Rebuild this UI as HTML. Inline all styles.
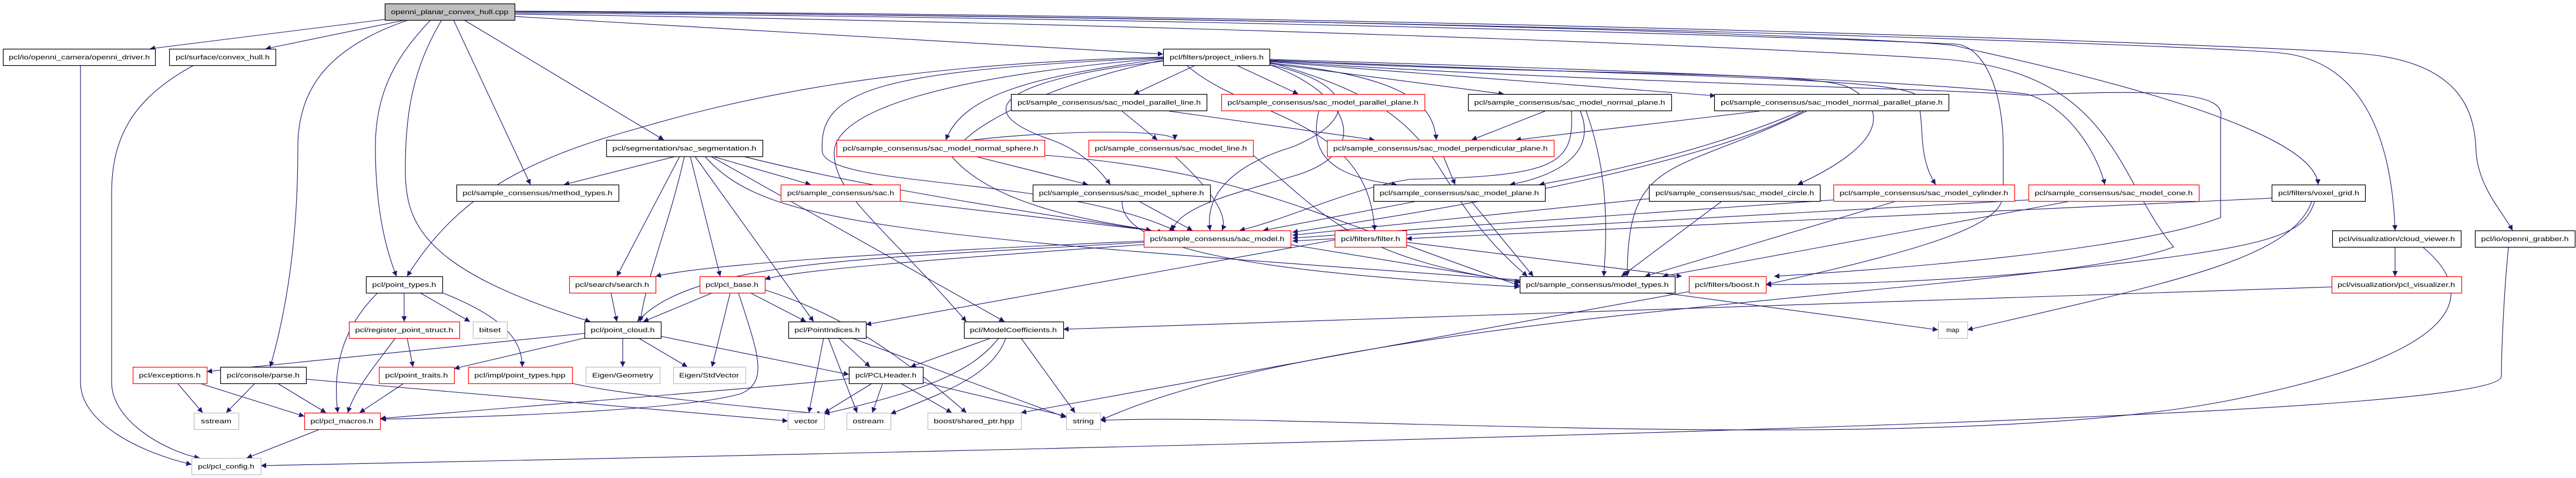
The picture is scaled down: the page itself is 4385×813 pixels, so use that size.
<!DOCTYPE html>
<html><head><meta charset="utf-8"><style>
html,body{margin:0;padding:0;background:#fff;width:4385px;height:813px;overflow:hidden}
svg{display:block}
text{font-family:"Liberation Sans",sans-serif;font-size:11px;fill:#000}
.e{fill:none;stroke:#191970;stroke-width:1.1}
</style></head><body>
<svg width="4385" height="813" viewBox="0 0 4385 813" xmlns="http://www.w3.org/2000/svg">
<defs><marker id="a" viewBox="0 0 10 10" refX="10" refY="5" markerWidth="9" markerHeight="9" orient="auto" markerUnits="userSpaceOnUse"><path d="M0,0 L10,5 L0,10 z" fill="#191970"/></marker></defs>
<g class="e" marker-end="url(#a)">
<!-- from cpp -->
<path d="M655,33 L255,83"/>
<path d="M690,34 L452,83"/>
<path d="M695,34 C560,80 507,150 507,250 C507,400 490,520 460,624"/>
<path d="M733,34 C680,90 639,150 639,250 C639,350 655,420 675,470"/>
<path d="M752,34 C700,120 690,200 690,290 C690,380 720,460 1005,547"/>
<path d="M772,34 L903,314"/>
<path d="M790,34 L1130,238"/>
<path d="M876,28 L1980,92"/>
<path d="M876,22 C2000,30 3000,60 3330,75 C3380,80 3410,160 3410,250 L3410,330 C3410,380 3300,420 3006,484"/>
<path d="M876,20 C2500,30 3300,70 3330,78 C3370,90 3940,200 3946,314"/>
<path d="M876,20 C2500,30 3800,80 3880,90 C4000,100 4070,200 4077,392"/>
<path d="M876,19 C2500,25 3900,80 4000,90 C4200,100 4213,200 4215,260 C4220,320 4260,360 4277,392"/>
<path d="M876,24 C2000,40 3000,80 3300,100 C3600,120 3600,300 3700,420 C3500,500 2300,520 1873,715"/>
<!-- left stuff -->
<path d="M137,111 L137,650 C137,720 240,770 326,790"/>
<path d="M330,111 C220,170 190,240 190,330 L190,650 C190,720 290,770 340,779"/>
<path d="M643,498 C580,560 566,630 575,702"/>
<path d="M688,498 L688,547"/>
<path d="M715,498 L800,547"/>
<path d="M753,498 C860,540 889,580 889,624"/>
<path d="M673,575 C640,620 605,660 592,702"/>
<path d="M693,575 L703,624"/>
<path d="M995,567 L352,632"/>
<path d="M995,575 L773,627"/>
<path d="M1060,575 L1060,624"/>
<path d="M1087,575 L1170,624"/>
<path d="M1125,572 L1445,637"/>
<path d="M303,653 L345,702"/>
<path d="M343,653 L518,708"/>
<path d="M433,653 L385,702"/>
<path d="M474,653 L555,702"/>
<path d="M521,645 L1341,716"/>
<path d="M686,653 L612,702"/>
<path d="M974,652 C1050,670 1250,690 1400,704"/>
<path d="M545,730 L420,779"/>
<path d="M1040,498 L1050,547"/>
<path d="M1213,498 L1095,547"/>
<path d="M1243,498 L1212,624"/>
<path d="M1277,498 L1372,547"/>
<path d="M1302,493 C1450,540 1550,620 1645,702"/>
<path d="M1257,498 C1290,600 1310,650 1260,670 C1150,700 800,710 648,713"/>
<!-- PointIndices / ModelCoefficients / PCLHeader -->
<path d="M1402,575 L1377,702"/>
<path d="M1410,575 L1459,702"/>
<path d="M1428,575 L1481,624"/>
<path d="M1450,575 L1815,710"/>
<path d="M1687,575 L1550,624"/>
<path d="M1700,575 C1650,640 1550,670 1403,704"/>
<path d="M1712,575 C1690,640 1600,670 1516,704"/>
<path d="M1738,575 L1830,702"/>
<path d="M1445,644 C1300,660 900,690 647,712"/>
<path d="M1483,653 L1403,702"/>
<path d="M1502,653 L1485,702"/>
<path d="M1535,653 L1620,702"/>
<path d="M1571,650 L1815,708"/>
<path d="M2875,496 L1738,702"/>
<!-- segmentation -->
<path d="M1150,266 L960,314"/>
<path d="M1213,266 L1380,314"/>
<path d="M1265,266 C1400,300 1600,340 1980,395"/>
<path d="M1157,266 L1050,470"/>
<path d="M1175,266 L1226,470"/>
<path d="M1183,266 L1385,547"/>
<path d="M1210,266 L1710,547"/>
<path d="M1200,266 C1300,380 1500,400 2600,477"/>
<path d="M1165,266 C1140,380 1100,470 1090,547"/>
<path d="M1532,342 L1960,392"/>
<!-- sac_model -->
<path d="M1947,410 C1500,430 1200,450 1116,470"/>
<path d="M1947,416 C1600,440 1350,460 1302,475"/>
<path d="M1947,412 C1500,440 1180,440 1085,547"/>
<path d="M2197,416 L2587,480"/>
<!-- sphere family -->
<path d="M1660,266 L1852,314"/>
<path d="M1620,266 C1700,360 1900,380 1960,392"/>
<path d="M1778,264 C2100,290 2200,350 2587,486"/>
<path d="M1940,343 L2030,392"/>
<path d="M1910,343 C1910,420 2100,460 2587,488"/>
<path d="M2000,266 C2070,330 2090,370 2080,392"/>
<path d="M2133,264 C2250,360 2300,440 2590,480"/>
<path d="M1910,189 L1970,238"/>
<path d="M1990,189 L2340,238"/>
<path d="M2245,189 C2230,250 2250,300 2378,314"/>
<path d="M2630,189 L2505,238"/>
<path d="M2675,189 C2680,280 2650,300 2400,305 C2300,320 2200,370 2110,392"/>
<path d="M2690,189 C2720,260 2650,300 2570,314"/>
<path d="M2700,189 C2740,300 2735,400 2730,470"/>
<path d="M2995,189 L2580,238"/>
<path d="M3065,189 C2900,260 2700,300 2620,314"/>
<path d="M3070,189 C2900,280 2500,350 2200,395"/>
<path d="M3075,189 C2850,300 2770,260 2770,470"/>
<path d="M2457,266 L2477,314"/>
<path d="M2408,343 L2150,392"/>
<path d="M2505,343 L2610,470"/>
<path d="M2807,338 L2200,400"/>
<path d="M2930,343 L2760,470"/>
<path d="M3121,340 L2200,405"/>
<path d="M3225,343 L2800,470"/>
<path d="M3453,340 L2200,410"/>
<path d="M3520,343 L2830,470"/>
<!-- filter / voxel -->
<path d="M3867,337 L2394,406"/>
<path d="M3935,343 C3900,440 3700,480 3349,561"/>
<path d="M3940,343 C3920,400 3880,420 3500,460 C3300,480 3100,484 3006,484"/>
<path d="M2272,408 L1474,552"/>
<path d="M2394,412 L2863,470"/>
<path d="M2830,498 L3299,561"/>
<path d="M4077,421 L4077,470"/>
<path d="M4125,421 C4220,500 4200,600 3800,680 C3300,780 2200,700 1873,715"/>
<path d="M3969,488 L1810,560"/>
<path d="M4270,421 C4262,500 4258,600 4258,640 C4258,700 3000,740 444,792"/>
<!-- project_inliers fan -->
<path d="M2035,111 L1930,160"/>
<path d="M2105,111 L2210,160"/>
<path d="M2161,108 L2560,160"/>
<path d="M2161,105 L2920,163"/>
<path d="M2161,103 C2700,130 3100,120 3150,150 C3220,190 3200,250 3060,314"/>
<path d="M2161,102 C2800,130 3200,130 3260,160 C3280,200 3260,260 3295,314"/>
<path d="M2161,101 C2800,120 3300,140 3450,160 C3520,180 3570,260 3583,314"/>
<path d="M2161,104 C2700,140 3300,150 3450,162 C3700,150 3790,160 3780,200 L3780,370 C3700,400 3500,440 3020,470"/>
<path d="M2161,107 C2400,130 2440,180 2445,238"/>
<path d="M2161,110 C2300,140 2320,200 2200,250 C2100,280 2050,330 2060,392"/>
<path d="M2161,110 C2300,160 2340,260 2200,300 C2100,330 2010,350 1995,392"/>
<path d="M1980,100 C1760,130 1640,160 1610,238"/>
<path d="M1980,104 C1750,130 1620,180 1790,238 C1850,260 1880,300 1890,314"/>
<path d="M1980,102 C1800,140 1680,200 1640,240 C1800,220 2000,220 2000,238"/>
<path d="M1980,98 C1500,120 1390,150 1400,260 C1420,320 1800,300 2000,392"/>
<path d="M1980,99 C1600,130 1420,190 1420,260 C1420,330 1500,380 1645,547"/>
<path d="M1980,97 C1500,110 1250,170 1080,220 C900,270 780,330 693,470"/>
<path d="M2020,111 C2120,200 2330,200 2340,392"/>
<path d="M2161,106 C2500,200 2400,300 2600,470"/>
</g>
<g stroke-width="1.2">
<rect x="655.5" y="6.5" width="221" height="28" fill="#bfbfbf" stroke="#000"/>
<text x="765.5" y="24" text-anchor="middle" textLength="200" lengthAdjust="spacingAndGlyphs">openni_planar_convex_hull.cpp</text>
</g>
<g id="nodes" stroke-width="1.2" fill="#fff">
<g stroke="#000">
<rect x="5.5" y="83.5" width="259" height="28"/><rect x="288.5" y="83.5" width="181" height="28"/>
<rect x="1980.5" y="83.5" width="181" height="28"/><rect x="1721.5" y="160.5" width="333" height="28"/>
<rect x="2499.5" y="160.5" width="346" height="28"/><rect x="2918.5" y="160.5" width="399" height="28"/>
<rect x="1032.5" y="238.5" width="266" height="28"/><rect x="777.5" y="314.5" width="276" height="28"/>
<rect x="1758.5" y="314.5" width="302" height="28"/><rect x="2338.5" y="314.5" width="292" height="28"/>
<rect x="2807.5" y="314.5" width="291" height="28"/><rect x="3867.5" y="314.5" width="159" height="28"/>
<rect x="3970.5" y="392.5" width="219" height="28"/><rect x="4213.5" y="392.5" width="170" height="28"/>
<rect x="623.5" y="470.5" width="130" height="28"/><rect x="2587.5" y="470.5" width="264" height="28"/>
<rect x="995.5" y="547.5" width="130" height="28"/><rect x="1342.5" y="547.5" width="132" height="28"/>
<rect x="1641.5" y="547.5" width="169" height="28"/><rect x="375.5" y="624.5" width="146" height="28"/>
<rect x="1445.5" y="624.5" width="126" height="28"/>
</g>
<g stroke="#ff0000">
<rect x="2079.5" y="160.5" width="346" height="28"/><rect x="1424.5" y="238.5" width="354" height="28"/>
<rect x="1853.5" y="238.5" width="280" height="28"/><rect x="2259.5" y="238.5" width="386" height="28"/>
<rect x="1329.5" y="314.5" width="203" height="28"/><rect x="3121.5" y="314.5" width="308" height="28"/>
<rect x="3453.5" y="314.5" width="290" height="28"/><rect x="1947.5" y="392.5" width="250" height="28"/>
<rect x="2272.5" y="392.5" width="122" height="28"/><rect x="969.5" y="470.5" width="147" height="28"/>
<rect x="1191.5" y="470.5" width="111" height="28"/><rect x="2875.5" y="470.5" width="131" height="28"/>
<rect x="3969.5" y="470.5" width="221" height="28"/><rect x="594.5" y="547.5" width="188" height="28"/>
<rect x="226.5" y="624.5" width="126" height="28"/><rect x="645.5" y="624.5" width="128" height="28"/>
<rect x="797.5" y="624.5" width="177" height="28"/><rect x="518.5" y="702.5" width="129" height="28"/>
</g>
<g stroke="#bfbfbf">
<rect x="805.5" y="547.5" width="58" height="28"/><rect x="3299.5" y="547.5" width="50" height="28"/>
<rect x="997.5" y="624.5" width="126" height="28"/><rect x="1146.5" y="624.5" width="123" height="28"/>
<rect x="330.5" y="702.5" width="76" height="28"/><rect x="1341.5" y="702.5" width="62" height="28"/>
<rect x="1441.5" y="702.5" width="75" height="28"/><rect x="1579.5" y="702.5" width="159" height="28"/>
<rect x="1815.5" y="702.5" width="58" height="28"/><rect x="326.5" y="779.5" width="118" height="28"/>
</g>
</g>
<g text-anchor="middle" lengthAdjust="spacingAndGlyphs">
<text x="135" y="101" textLength="240" lengthAdjust="spacingAndGlyphs">pcl/io/openni_camera/openni_driver.h</text>
<text x="379" y="101" textLength="160" lengthAdjust="spacingAndGlyphs">pcl/surface/convex_hull.h</text>
<text x="2071" y="101" textLength="160" lengthAdjust="spacingAndGlyphs">pcl/filters/project_inliers.h</text>
<text x="1888" y="178" textLength="312" lengthAdjust="spacingAndGlyphs">pcl/sample_consensus/sac_model_parallel_line.h</text>
<text x="2252" y="178" textLength="325" lengthAdjust="spacingAndGlyphs">pcl/sample_consensus/sac_model_parallel_plane.h</text>
<text x="2672" y="178" textLength="325" lengthAdjust="spacingAndGlyphs">pcl/sample_consensus/sac_model_normal_plane.h</text>
<text x="3118" y="178" textLength="378" lengthAdjust="spacingAndGlyphs">pcl/sample_consensus/sac_model_normal_parallel_plane.h</text>
<text x="1165" y="256" textLength="245" lengthAdjust="spacingAndGlyphs">pcl/segmentation/sac_segmentation.h</text>
<text x="1601" y="256" textLength="333" lengthAdjust="spacingAndGlyphs">pcl/sample_consensus/sac_model_normal_sphere.h</text>
<text x="1993" y="256" textLength="259" lengthAdjust="spacingAndGlyphs">pcl/sample_consensus/sac_model_line.h</text>
<text x="2452" y="256" textLength="365" lengthAdjust="spacingAndGlyphs">pcl/sample_consensus/sac_model_perpendicular_plane.h</text>
<text x="915" y="332" textLength="255" lengthAdjust="spacingAndGlyphs">pcl/sample_consensus/method_types.h</text>
<text x="1431" y="332" textLength="182" lengthAdjust="spacingAndGlyphs">pcl/sample_consensus/sac.h</text>
<text x="1909" y="332" textLength="281" lengthAdjust="spacingAndGlyphs">pcl/sample_consensus/sac_model_sphere.h</text>
<text x="2484" y="332" textLength="271" lengthAdjust="spacingAndGlyphs">pcl/sample_consensus/sac_model_plane.h</text>
<text x="2953" y="332" textLength="270" lengthAdjust="spacingAndGlyphs">pcl/sample_consensus/sac_model_circle.h</text>
<text x="3275" y="332" textLength="287" lengthAdjust="spacingAndGlyphs">pcl/sample_consensus/sac_model_cylinder.h</text>
<text x="3598" y="332" textLength="269" lengthAdjust="spacingAndGlyphs">pcl/sample_consensus/sac_model_cone.h</text>
<text x="3947" y="332" textLength="138" lengthAdjust="spacingAndGlyphs">pcl/filters/voxel_grid.h</text>
<text x="2072" y="410" textLength="229" lengthAdjust="spacingAndGlyphs">pcl/sample_consensus/sac_model.h</text>
<text x="2333" y="410" textLength="101" lengthAdjust="spacingAndGlyphs">pcl/filters/filter.h</text>
<text x="4080" y="410" textLength="198" lengthAdjust="spacingAndGlyphs">pcl/visualization/cloud_viewer.h</text>
<text x="4298" y="410" textLength="149" lengthAdjust="spacingAndGlyphs">pcl/io/openni_grabber.h</text>
<text x="688" y="488" textLength="109" lengthAdjust="spacingAndGlyphs">pcl/point_types.h</text>
<text x="1042" y="488" textLength="126" lengthAdjust="spacingAndGlyphs">pcl/search/search.h</text>
<text x="1246" y="488" textLength="90" lengthAdjust="spacingAndGlyphs">pcl/pcl_base.h</text>
<text x="2719" y="488" textLength="243" lengthAdjust="spacingAndGlyphs">pcl/sample_consensus/model_types.h</text>
<text x="2940" y="488" textLength="110" lengthAdjust="spacingAndGlyphs">pcl/filters/boost.h</text>
<text x="4079" y="488" textLength="200" lengthAdjust="spacingAndGlyphs">pcl/visualization/pcl_visualizer.h</text>
<text x="688" y="565" textLength="167" lengthAdjust="spacingAndGlyphs">pcl/register_point_struct.h</text>
<text x="834" y="565" textLength="37" lengthAdjust="spacingAndGlyphs">bitset</text>
<text x="1060" y="565" textLength="109" lengthAdjust="spacingAndGlyphs">pcl/point_cloud.h</text>
<text x="1408" y="565" textLength="111" lengthAdjust="spacingAndGlyphs">pcl/PointIndices.h</text>
<text x="1725" y="565" textLength="148" lengthAdjust="spacingAndGlyphs">pcl/ModelCoefficients.h</text>
<text x="3324" y="565" textLength="22" lengthAdjust="spacingAndGlyphs">map</text>
<text x="289" y="642" textLength="105" lengthAdjust="spacingAndGlyphs">pcl/exceptions.h</text>
<text x="448" y="642" textLength="124" lengthAdjust="spacingAndGlyphs">pcl/console/parse.h</text>
<text x="709" y="642" textLength="107" lengthAdjust="spacingAndGlyphs">pcl/point_traits.h</text>
<text x="885" y="642" textLength="155" lengthAdjust="spacingAndGlyphs">pcl/impl/point_types.hpp</text>
<text x="1060" y="642" textLength="104" lengthAdjust="spacingAndGlyphs">Eigen/Geometry</text>
<text x="1207" y="642" textLength="102" lengthAdjust="spacingAndGlyphs">Eigen/StdVector</text>
<text x="1508" y="642" textLength="104" lengthAdjust="spacingAndGlyphs">pcl/PCLHeader.h</text>
<text x="368" y="720" textLength="52" lengthAdjust="spacingAndGlyphs">sstream</text>
<text x="582" y="720" textLength="107" lengthAdjust="spacingAndGlyphs">pcl/pcl_macros.h</text>
<text x="1372" y="720" textLength="40" lengthAdjust="spacingAndGlyphs">vector</text>
<text x="1478" y="720" textLength="53" lengthAdjust="spacingAndGlyphs">ostream</text>
<text x="1658" y="720" textLength="137" lengthAdjust="spacingAndGlyphs">boost/shared_ptr.hpp</text>
<text x="1844" y="720" textLength="36" lengthAdjust="spacingAndGlyphs">string</text>
<text x="385" y="797" textLength="96" lengthAdjust="spacingAndGlyphs">pcl/pcl_config.h</text>
</g>
</svg>
</body></html>
